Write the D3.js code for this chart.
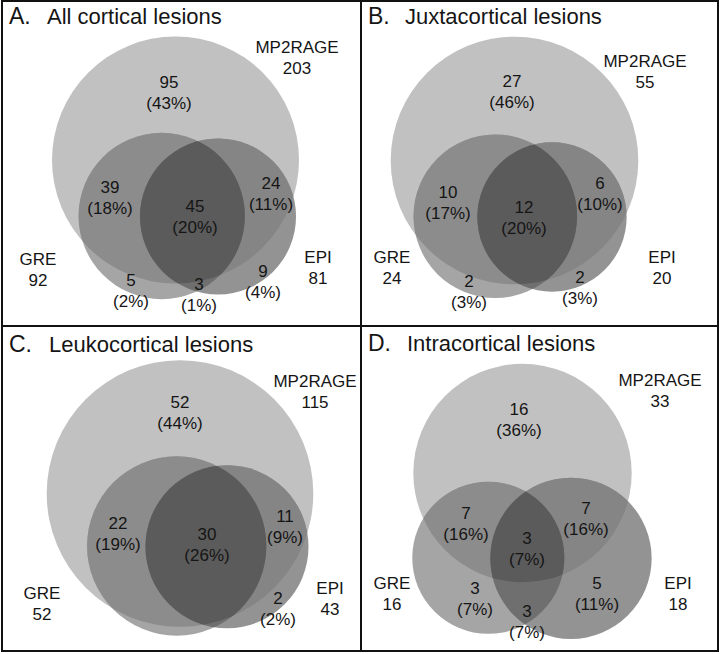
<!DOCTYPE html>
<html>
<head>
<meta charset="utf-8">
<script src="https://cdn.jsdelivr.net/npm/d3@7"></script>
<style>
  html, body { margin: 0; padding: 0; background: #fff; }
  svg { display: block; }
  text { font-family: "Liberation Sans", Arial, Helvetica, sans-serif; fill: #151515; }
</style>
</head>
<body>
<svg id="chart" width="720" height="654"></svg>
<script>
// ---------------- DATA ----------------
const panelLetters = ["A.", "B.", "C.", "D."];
const panelTitles = ["All cortical lesions", "Juxtacortical lesions", "Leukocortical lesions", "Intracortical lesions"];
const setNames = ["MP2RAGE", "GRE", "EPI"];
// totals per panel, in order of setNames
const setTotals = [
  [203, 92, 81],
  [55, 24, 20],
  [115, 52, 43],
  [33, 16, 18]
];
// region keys
const regionKeys = ["M", "GM", "GME", "EM", "G", "GE", "E"];
// counts per panel per region (null = no label shown)
const regionCounts = [
  [95, 39, 45, 24, 5, 3, 9],
  [27, 10, 12, 6, 2, null, 2],
  [52, 22, 30, 11, null, null, 2],
  [16, 7, 3, 7, 3, 3, 5]
];
const regionPercents = [
  [43, 18, 20, 11, 2, 1, 4],
  [46, 17, 20, 10, 3, null, 3],
  [44, 19, 26, 9, null, null, 2],
  [36, 16, 7, 16, 7, 7, 11]
];

// ---------------- LAYOUT ----------------
const W = 720, H = 654;
const panelOrigins = [[0, 0], [360, 0], [0, 327], [360, 327]];
// radius of the largest circle in each panel (area proportional to totals)
const maxRadius = [123.5, 123.8, 133.3, 109.2];
// circle centres (panel-local) in order of setNames
const circleCenters = [
  [[175.5, 160], [161.7, 216], [218, 216.5]],
  [[154.5, 160.5], [135.3, 216.3], [192, 217]],
  [[180, 166.5], [176.7, 219], [227, 219.7]],
  [[162.5, 146], [128.3, 230.8], [211, 231.3]]
];
// set label positions (first line baseline)
const setLabelPos = [
  [[297, 53], [38, 265], [318, 263]],
  [[285, 67], [32, 263], [302, 263]],
  [[315, 60], [42, 272], [330, 267]],
  [[300, 59], [32, 262], [318, 262]]
];
// region label positions (first line baseline) in order of regionKeys
const regionLabelPos = [
  [[169, 88], [110, 193], [195, 212], [271, 189], [131, 286], [199, 290], [263, 277]],
  [[152, 87], [88, 198], [164, 213], [240, 189], [109, 287], null, [220, 283]],
  [[180, 81], [118, 202], [207, 213], [285, 195], null, null, [278, 277]],
  [[159, 88], [106, 192], [167, 217], [226, 187], [115, 267], [167, 290], [237, 262]]
];
const titlePos = [
  { letterX: 9, textX: 47, y: 23.5 },
  { letterX: 8, textX: 45, y: 23.5 },
  { letterX: 9, textX: 49, y: 25 },
  { letterX: 8, textX: 47, y: 24 }
];
const lineGap = 21;

// ---------------- STYLE ----------------
const colors = {
  M: "#c1c1c1",
  G: "#a5a5a5",
  E: "#939393",
  GM: "#8c8c8c",
  EM: "#858585",
  GE: "#6f6f6f",
  GME: "#5b5b5b"
};

const svg = d3.select("#chart");
svg.append("rect").attr("width", W).attr("height", H).attr("fill", "#fff");
const defs = svg.append("defs");

panelTitles.forEach((title, p) => {
  const [ox, oy] = panelOrigins[p];
  const g = svg.append("g").attr("transform", `translate(${ox},${oy})`);

  const r = d3.scaleSqrt().domain([0, d3.max(setTotals[p])]).range([0, maxRadius[p]]);
  const circles = setNames.map((name, i) => ({
    name, total: setTotals[p][i],
    cx: circleCenters[p][i][0], cy: circleCenters[p][i][1],
    r: r(setTotals[p][i])
  }));
  const [cM, cG, cE] = circles;

  // clip paths
  const clipId = (k) => `clip-${p}-${k}`;
  [["M", cM], ["G", cG]].forEach(([k, c]) => {
    defs.append("clipPath").attr("id", clipId(k))
      .append("circle").attr("cx", c.cx).attr("cy", c.cy).attr("r", c.r);
  });

  const drawCircle = (sel, c, fill) => sel.append("circle")
    .attr("cx", c.cx).attr("cy", c.cy).attr("r", c.r).attr("fill", fill);

  drawCircle(g, cM, colors.M);
  drawCircle(g, cG, colors.G);
  drawCircle(g, cE, colors.E);
  drawCircle(g.append("g").attr("clip-path", `url(#${clipId("M")})`), cG, colors.GM);
  drawCircle(g.append("g").attr("clip-path", `url(#${clipId("M")})`), cE, colors.EM);
  drawCircle(g.append("g").attr("clip-path", `url(#${clipId("G")})`), cE, colors.GE);
  drawCircle(
    g.append("g").attr("clip-path", `url(#${clipId("M")})`)
      .append("g").attr("clip-path", `url(#${clipId("G")})`),
    cE, colors.GME);

  // title
  const tp = titlePos[p];
  g.append("text").attr("x", tp.letterX).attr("y", tp.y)
    .attr("font-size", 23).text(panelLetters[p]);
  g.append("text").attr("x", tp.textX).attr("y", tp.y)
    .attr("font-size", 22).text(title);

  // set labels
  circles.forEach((c, i) => {
    const [x, y] = setLabelPos[p][i];
    const t = g.append("text").attr("text-anchor", "middle").attr("font-size", 17);
    t.append("tspan").attr("x", x).attr("y", y).text(c.name);
    t.append("tspan").attr("x", x).attr("y", y + lineGap).text(c.total);
  });

  // region labels
  regionKeys.forEach((k, j) => {
    const n = regionCounts[p][j];
    const pos = regionLabelPos[p][j];
    if (n == null || !pos) return;
    const t = g.append("text").attr("text-anchor", "middle").attr("font-size", 17);
    t.append("tspan").attr("x", pos[0]).attr("y", pos[1]).text(n);
    t.append("tspan").attr("x", pos[0]).attr("y", pos[1] + lineGap).text(`(${regionPercents[p][j]}%)`);
  });
});

// frame & dividers
const frame = svg.append("g").attr("fill", "none").attr("stroke", "#111").attr("stroke-width", 2);
frame.append("rect").attr("x", 2).attr("y", 1).attr("width", 716).attr("height", 650);
frame.append("line").attr("x1", 361).attr("x2", 361).attr("y1", 1).attr("y2", 651);
frame.append("line").attr("x1", 2).attr("x2", 718).attr("y1", 326).attr("y2", 326);
</script>
</body>
</html>
